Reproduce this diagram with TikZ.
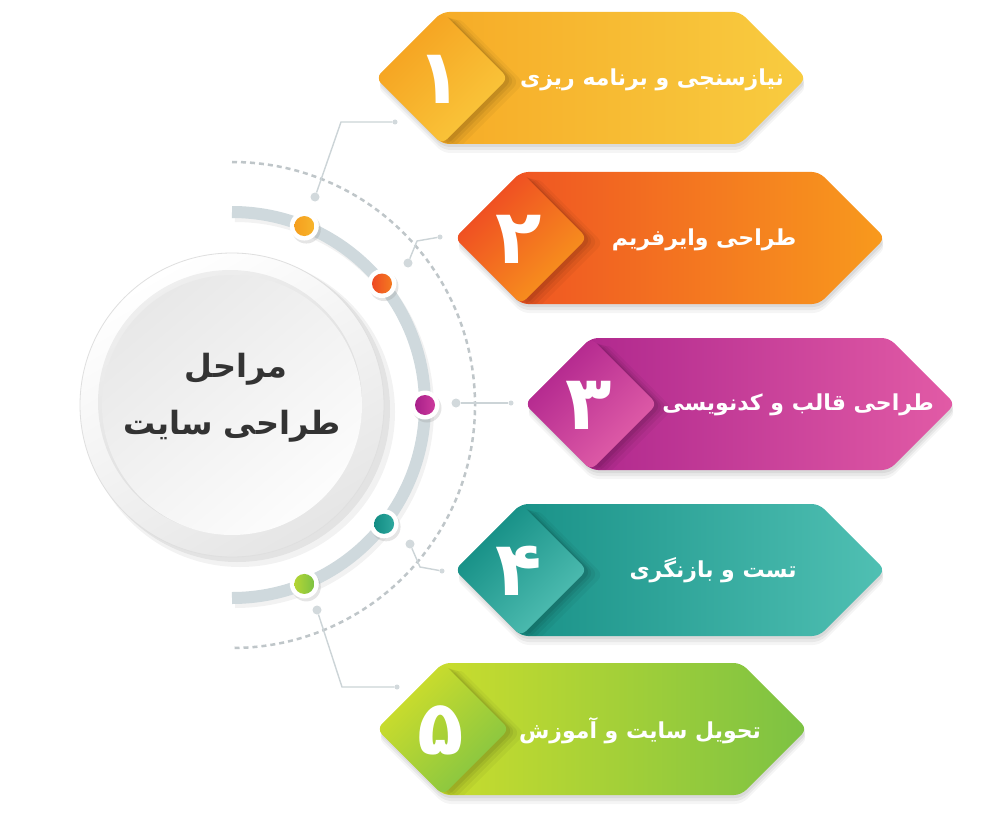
\documentclass[tikz,border=0pt]{standalone}
\usepackage{fontspec}
\TeXXeTstate=1
\newfontfamily\fa[Script=Arabic]{DejaVu Sans}
\usetikzlibrary{shadows}
\definecolor{dashc}{HTML}{BFC6C9}
\definecolor{connc}{HTML}{CCD4D7}
\definecolor{conndotc}{HTML}{D2D9DC}
\definecolor{arcc}{HTML}{CFD9DD}
\definecolor{txtc}{HTML}{333333}
\definecolor{aL}{HTML}{F6A623}\definecolor{aR}{HTML}{F8CC40}\definecolor{aT}{HTML}{F5A01F}\definecolor{aB}{HTML}{FAC83C}
\definecolor{bL}{HTML}{EE4A24}\definecolor{bR}{HTML}{F89A1D}\definecolor{bT}{HTML}{EE4523}\definecolor{bB}{HTML}{F8981D}
\definecolor{cL}{HTML}{A8208A}\definecolor{cR}{HTML}{E25BA6}\definecolor{cT}{HTML}{AE228C}\definecolor{cB}{HTML}{E462AA}
\definecolor{dL}{HTML}{108A81}\definecolor{dR}{HTML}{50C0B3}\definecolor{dT}{HTML}{0F8A81}\definecolor{dB}{HTML}{54C1B5}
\definecolor{eL}{HTML}{D6E12A}\definecolor{eR}{HTML}{7CC243}\definecolor{eT}{HTML}{D3DF2A}\definecolor{eB}{HTML}{82C443}
\definecolor{p1}{HTML}{F7B52C}\definecolor{p1b}{HTML}{F59E1E}
\definecolor{p2}{HTML}{F47A20}\definecolor{p2b}{HTML}{EE4A24}
\definecolor{p3}{HTML}{CC3A9C}\definecolor{p3b}{HTML}{A8208A}
\definecolor{p4}{HTML}{2FA89E}\definecolor{p4b}{HTML}{128C83}
\definecolor{p5}{HTML}{B5D534}\definecolor{p5b}{HTML}{7CC243}
\tikzset{
  hexpath/.style 2 args={insert path={(#1,#2) -- ++(66,-66) -- ++(298,0) -- ++(66,66) -- ++(-66,66) -- ++(-298,0) -- cycle}},
  diapath/.style 2 args={insert path={(#1,#2) -- ++(66,-66) -- ++(66,66) -- ++(-66,66) -- cycle}},
}
\newcommand{\hexbox}[8]{%
  \fill[black, opacity=0.04, rounded corners=7pt, hexpath={#2+1}{#3+9}];
  \fill[black, opacity=0.05, rounded corners=7pt, hexpath={#2+1}{#3+6}];
  \fill[black, opacity=0.06, rounded corners=7pt, hexpath={#2+1}{#3+3}];
  \shade[left color=#4, right color=#5, rounded corners=7pt, hexpath={#2}{#3}];
  \begin{scope}
    \clip[rounded corners=7pt, hexpath={#2}{#3}];
    \fill[black, opacity=0.04, rounded corners=7pt, diapath={#2+16}{#3+5}];
    \fill[black, opacity=0.05, rounded corners=7pt, diapath={#2+11}{#3+4}];
    \fill[black, opacity=0.06, rounded corners=7pt, diapath={#2+7}{#3+3}];
    \fill[black, opacity=0.07, rounded corners=7pt, diapath={#2+4}{#3+2}];
  \end{scope}
  \shade[top color=#6, bottom color=#7, shading angle=45, rounded corners=7pt, diapath={#2}{#3}];
  \node[numtext] (#1) at (#2+64,#3+1) {#8};
}
\begin{document}
\begin{tikzpicture}[x=1pt,y=-1pt,
  conn/.style={draw=connc, line width=1.4pt},
  conndot/.style={circle, fill=conndotc, minimum size=9pt, inner sep=0pt},
  enddot/.style={circle, fill=conndotc, minimum size=5pt, inner sep=0pt},
  boxtext/.style={text=white, font=\fa\bfseries\fontsize{22}{26}\selectfont, inner sep=0pt},
  numtext/.style={text=white, font=\fa\bfseries\fontsize{76}{76}\selectfont, inner sep=0pt},
  ringdot/.style={circle, fill=white, minimum size=29pt, inner sep=0pt, drop shadow={shadow xshift=2pt, shadow yshift=-3pt, opacity=0.2}},
  innerdot/.style={circle, minimum size=20pt, inner sep=0pt},
  centertext/.style={text=txtc, font=\fa\bfseries\fontsize{32}{36}\selectfont, inner sep=0pt},
]
\fill[white] (0,0) rectangle (1000,813);
\useasboundingbox (0,0) rectangle (1000,813);

% dashed arc
\draw[dashc, line width=2.5pt, dash pattern=on 5pt off 4pt] (232,162) arc[start angle=-90, end angle=90, radius=243];

% connectors
\node[conndot] (c1) at (315,197) {};
\coordinate (k1) at (341,122);
\node[enddot] (e1) at (395,122) {};
\draw[conn] (c1) -- (k1) -- (e1);
\node[conndot] (c2) at (408,263) {};
\coordinate (k2) at (417,241);
\node[enddot] (e2) at (440,237) {};
\draw[conn] (c2) -- (k2) -- (e2);
\node[conndot] (c3) at (456,403) {};
\node[enddot] (e3) at (511,403) {};
\draw[conn] (c3) -- (e3);
\node[conndot] (c4) at (410,544) {};
\coordinate (k4) at (420,567);
\node[enddot] (e4) at (442,571) {};
\draw[conn] (c4) -- (k4) -- (e4);
\node[conndot] (c5) at (317,610) {};
\coordinate (k5) at (342,687);
\node[enddot] (e5) at (397,687) {};
\draw[conn] (c5) -- (k5) -- (e5);

% grey band
\draw[black, opacity=0.05, line width=12pt] (235,216) arc[start angle=-90, end angle=90, radius=193];
\draw[arcc, line width=12pt] (232,212) arc[start angle=-90, end angle=90, radius=193];

% central circle
\fill[black, opacity=0.05] (240,412) circle[radius=155];
\fill[black, opacity=0.06] (237,409) circle[radius=153];
\shade[top color=white, bottom color=gray!20, shading angle=30] (232,405) circle[radius=152];
\draw[gray!25, line width=0.8pt] (232,405) circle[radius=152];
\fill[black, opacity=0.06] (230,402) circle[radius=132];
\shade[top color=gray!18, bottom color=gray!2, shading angle=40] (232,405) circle[radius=130];
\node[centertext] (t0a) at (236,369) {\beginR مراحل\endR};
\node[centertext] (t0b) at (232,426) {\beginR طراحی سایت\endR};

% dots on the band
\path (232,405) ++(-68:193) node[ringdot] (d1) {};
\path (232,405) ++(-39:193) node[ringdot] (d2) {};
\path (232,405) ++(0:193) node[ringdot] (d3) {};
\path (232,405) ++(38:193) node[ringdot] (d4) {};
\path (232,405) ++(68:193) node[ringdot] (d5) {};
\node[innerdot, left color=p1b, right color=p1] (d1i) at (d1) {};
\node[innerdot, left color=p2b, right color=p2] (d2i) at (d2) {};
\node[innerdot, left color=p3b, right color=p3] (d3i) at (d3) {};
\node[innerdot, left color=p4b, right color=p4] (d4i) at (d4) {};
\node[innerdot, left color=p5, right color=p5b] (d5i) at (d5) {};

% boxes
\hexbox{n1}{376}{78}{aL}{aR}{aT}{aB}{۱}
\node[boxtext] (t1) at (652,80) {\beginR نیازسنجی و برنامه ریزی\endR};
\hexbox{n2}{455}{238}{bL}{bR}{bT}{bB}{۲}
\node[boxtext] (t2) at (704,240) {\beginR طراحی وایرفریم\endR};
\hexbox{n3}{525}{404}{cL}{cR}{cT}{cB}{۳}
\node[boxtext] (t3) at (798,405) {\beginR طراحی قالب و کدنویسی\endR};
\hexbox{n4}{455}{570}{dL}{dR}{dT}{dB}{۴}
\node[boxtext] (t4) at (713,570) {\beginR تست و بازنگری\endR};
\hexbox{n5}{377}{729}{eL}{eR}{eT}{eB}{۵}
\node[boxtext] (t5) at (640,731) {\beginR تحویل سایت و آموزش\endR};
\end{tikzpicture}
\end{document}
